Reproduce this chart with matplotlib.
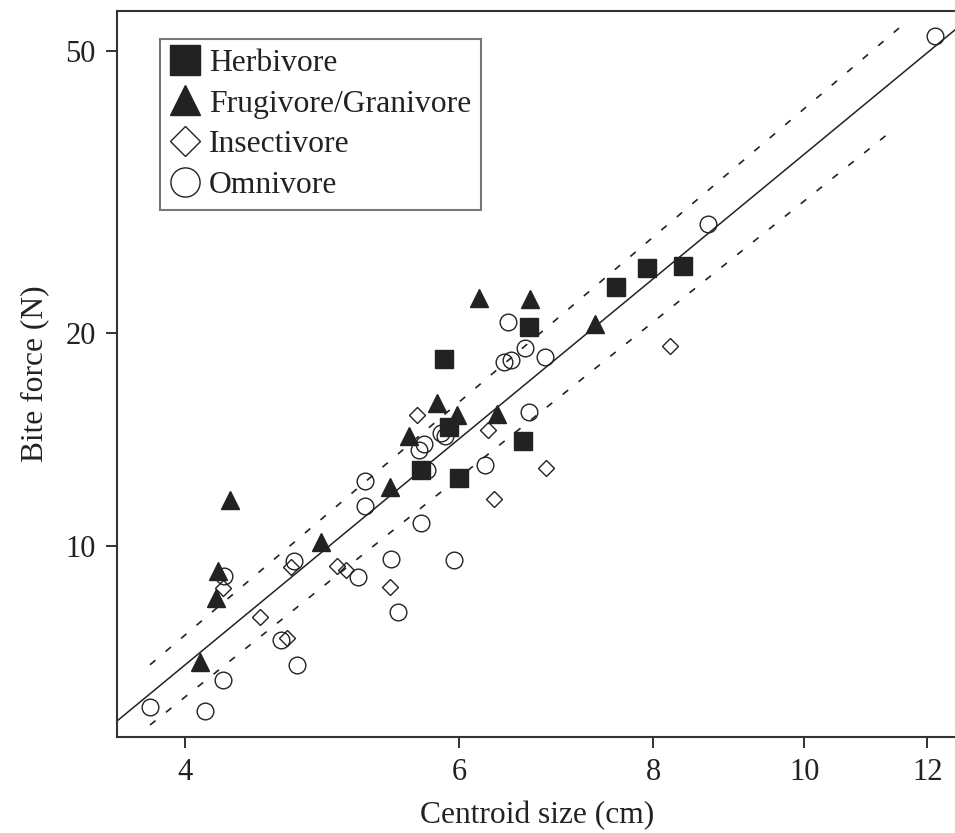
import numpy as np
import matplotlib
matplotlib.use("Agg")
import matplotlib.pyplot as plt

plt.rcParams['font.family'] = ['Liberation Serif', 'DejaVu Serif']

# ---- data (centroid size cm, bite force N) ----
herb_x = [5.67, 5.91, 6.00, 5.87, 6.60, 6.66, 7.57, 7.93, 8.36]
herb_y = [12.81, 14.74, 12.50, 18.35, 14.08, 20.40, 23.19, 24.67, 24.83]

frug_x = [4.09, 4.19, 4.20, 4.28, 4.89, 5.42, 5.57, 5.81, 5.98, 6.18, 6.35, 6.67, 7.34]
frug_y = [6.87, 8.44, 9.21, 11.62, 10.12, 12.11, 14.31, 15.92, 15.30, 22.39, 15.39, 22.32, 20.57]

insect_x = [4.23, 4.47, 4.65, 4.68, 5.01, 5.08, 5.42, 5.64, 6.26, 6.32, 6.83, 8.20]
insect_y = [8.73, 7.95, 7.42, 9.33, 9.38, 9.24, 8.77, 15.32, 14.59, 11.64, 12.88, 19.18]

omni_x = [3.80, 4.12, 4.23, 4.24, 4.61, 4.70, 4.72, 5.17, 5.22, 5.22, 5.43, 5.48,
          5.67, 5.66, 5.70, 5.84, 5.88, 5.72, 5.96, 6.24, 6.41, 6.48, 6.45, 6.62,
          6.66, 6.82, 8.68, 12.13]
omni_y = [5.93, 5.86, 6.47, 9.08, 7.38, 9.53, 6.80, 9.06, 12.36, 11.38, 9.58, 8.07,
          10.77, 13.65, 13.94, 14.43, 14.29, 12.83, 9.56, 13.00, 18.20, 18.32, 20.71, 19.02,
          15.47, 18.50, 28.47, 52.55]

# regression line: ln(y) = a + b ln(x)
fit_a, fit_b = -0.5977, 1.813
fit_x = [3.55, 12.8]
# dashed bounds (end points)
upper_x = [3.80, 11.59]
upper_y = [6.80, 54.64]
lower_x = [3.80, 11.44]
lower_y = [5.59, 38.93]

x_ticks = [4, 6, 8, 10, 12]
y_ticks = [10, 20, 50]

ink = '#222222'

fig = plt.figure(figsize=(9.55, 8.33), dpi=100)
ax = fig.add_axes([116.7 / 955, (833 - 737.3) / 833, (957 - 116.7) / 955, (737.3 - 10.7) / 833])
ax.set_xscale('log')
ax.set_yscale('log')

fx = np.array(fit_x)
ax.plot(fx, np.exp(fit_a + fit_b * np.log(fx)), color=ink, lw=1.1, zorder=2)
ax.plot(upper_x, upper_y, color=ink, lw=1.2, linestyle=(0, (4.2, 8.0)), zorder=2)
ax.plot(lower_x, lower_y, color=ink, lw=1.2, linestyle=(0, (4.2, 8.0)), zorder=2)

h1, = ax.plot(herb_x, herb_y, 's', ms=13, mfc=ink, mec=ink, mew=1.0, ls='none', label='Herbivore', zorder=3)
h2, = ax.plot(frug_x, frug_y, '^', ms=13, mfc=ink, mec=ink, mew=1.0, ls='none', label='Frugivore/Granivore', zorder=3)
h3, = ax.plot(insect_x, insect_y, 'D', ms=8.2, mfc='none', mec=ink, mew=1.0, ls='none', label='Insectivore', zorder=3)
h4, = ax.plot(omni_x, omni_y, 'o', ms=12, mfc='none', mec=ink, mew=1.0, ls='none', label='Omnivore', zorder=3)

ax.set_xlim(3.617, 12.537)
ax.set_ylim(5.371, 57.04)

ax.xaxis.set_major_locator(matplotlib.ticker.FixedLocator(x_ticks))
ax.yaxis.set_major_locator(matplotlib.ticker.FixedLocator(y_ticks))
ax.xaxis.set_minor_locator(matplotlib.ticker.NullLocator())
ax.yaxis.set_minor_locator(matplotlib.ticker.NullLocator())
ax.set_xticklabels([str(t) for t in x_ticks])
ax.set_yticklabels([str(t) for t in y_ticks])
ax.tick_params(axis='both', direction='out', length=8, width=1.3, colors=ink,
               labelsize=22, pad=7, labelcolor=ink)

for s in ax.spines.values():
    s.set_color('#333333')
    s.set_linewidth(1.5)
ax.spines['right'].set_visible(False)

ax.set_xlabel('Centroid size (cm)', fontsize=22.7, color=ink, labelpad=10)
ax.set_ylabel('Bite force (N)', fontsize=22.7, color=ink, labelpad=12)

leg = ax.legend(handles=[h1, h2, h3, h4], loc='upper left',
                bbox_to_anchor=((160 - 116.7) / 840.3, 1 - (39 - 10.7) / 726.6),
                borderaxespad=0, fontsize=22.8, frameon=True, fancybox=False,
                edgecolor='#555555', handlelength=1.0, handletextpad=0.25,
                borderpad=0.3, labelspacing=0.37)
leg.get_frame().set_linewidth(1.5)
for t in leg.get_texts():
    t.set_color(ink)
for h, ms in zip(leg.legend_handles, [22, 22, 15, 21]):
    h.set_markersize(ms)

fig.savefig('out.png', dpi=100)
